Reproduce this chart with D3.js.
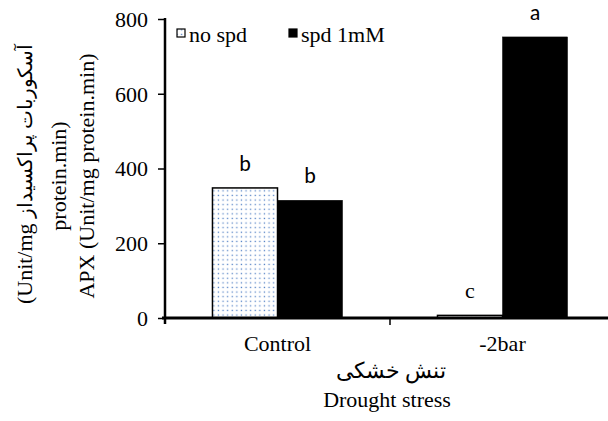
<!DOCTYPE html>
<html><head><meta charset="utf-8">
<script src="https://cdn.jsdelivr.net/npm/d3@7"></script>
<style>body{margin:0;background:#fff}svg{display:block}</style>
</head><body>
<script>
const categories = ["Control", "-2bar"];
const seriesNames = ["no spd", "spd 1mM"];
const noSpd = [348, 7];
const spd1mM = [315, 752];
const lettersNoSpd = ["b", "c"];
const lettersSpd = ["b", "a"];
const yTicks = [0, 200, 400, 600, 800];

const W = 608, H = 421;
const svg = d3.select("body").append("svg").attr("width", W).attr("height", H);
const defs = svg.append("defs");
const pat = defs.append("pattern").attr("id", "dots").attr("patternUnits", "userSpaceOnUse")
  .attr("width", 4.6).attr("height", 4.6);
pat.append("rect").attr("width", 4.6).attr("height", 4.6).attr("fill", "#fff");
pat.append("rect").attr("x", 1.6).attr("y", 1.6).attr("width", 1.3).attr("height", 1.3).attr("fill", "#5a86c8");

const serif = "Liberation Serif, Times New Roman, serif";
const sans = "Carlito, Liberation Sans, sans-serif";
const FS = 22;

const x0 = d3.scaleBand().domain(categories).range([165, 615]).paddingInner(0).paddingOuter(0);
const x1 = d3.scaleBand().domain(seriesNames).range([0, x0.bandwidth()]).paddingInner(0).paddingOuter(0.73);
const y = d3.scaleLinear().domain([0, 800]).range([318, 19]);

const series = [noSpd, spd1mM];
const letterSets = [lettersNoSpd, lettersSpd];
const g = svg.append("g");
categories.forEach((c, ci) => {
  series.forEach((s, si) => {
    const xx = x0(c) + x1(seriesNames[si]);
    g.append("rect").attr("x", xx).attr("width", x1.bandwidth())
      .attr("y", y(s[ci])).attr("height", y(0) - y(s[ci]))
      .attr("fill", si === 0 ? "url(#dots)" : "#000")
      .attr("stroke", "#000").attr("stroke-width", si === 0 ? 1.5 : 0.5);
    const L = letterSets[si][ci];
    g.append("text").attr("x", xx + x1.bandwidth() / 2)
      .attr("y", y(s[ci]) - 17)
      .attr("text-anchor", "middle")
      .style("font-family", L === "c" ? serif : sans)
      .attr("font-size", FS).text(L);
  });
});

// y axis
const yAxis = d3.axisLeft(y).tickValues(yTicks).tickSize(7).tickPadding(10).tickFormat(d3.format("d"));
const ya = svg.append("g").attr("transform", "translate(165,0)").call(yAxis);
ya.select(".domain").attr("stroke-width", 2.5).attr("d", "M0,18V324");
ya.selectAll(".tick line").attr("stroke-width", 1.5);
ya.selectAll(".tick text").style("font-family", serif).attr("font-size", FS).attr("fill", "#000").attr("dy", "0.34em");

// x axis
const xAxis = d3.axisBottom(x0).tickSize(0);
const xa = svg.append("g").attr("transform", "translate(0,318)").call(xAxis);
xa.select(".domain").attr("stroke-width", 3).attr("d", "M162,0H608");
xa.selectAll(".tick text").style("font-family", serif).attr("font-size", FS).attr("fill", "#000")
  .attr("y", 33).attr("dy", 0);
xa.append("line").attr("x1", x0("-2bar")).attr("x2", x0("-2bar")).attr("y1", 0).attr("y2", 7)
  .attr("stroke", "#000").attr("stroke-width", 1.5);

// x titles
svg.append("text").attr("x", 391).attr("y", 378).attr("text-anchor", "middle")
  .style("font-family", serif).attr("font-size", FS).text("تنش خشکی");
svg.append("text").attr("x", 387).attr("y", 407).attr("text-anchor", "middle")
  .style("font-family", serif).attr("font-size", FS).text("Drought stress");

// y titles
const t1 = svg.append("text").attr("transform", "translate(32,174) rotate(-90)")
  .attr("text-anchor", "middle").style("font-family", serif).attr("font-size", FS).attr("direction", "ltr");
t1.append("tspan").text("(Unit/mg ");
t1.append("tspan").attr("font-size", 20).text("آسکوربات پراکسیداز");
const yTitleLines = ["protein.min)", "APX (Unit/mg protein.min)"];
const yTitleX = [66, 94];
yTitleLines.forEach((t, i) => {
  svg.append("text").attr("transform", `translate(${yTitleX[i]},176) rotate(-90)`)
    .attr("text-anchor", "middle").style("font-family", serif).attr("font-size", FS)
    .attr("direction", "ltr").text(t);
});

// legend
const legX = [177, 289];
seriesNames.forEach((n, i) => {
  svg.append("rect").attr("x", legX[i]).attr("y", 29).attr("width", 8).attr("height", 8)
    .attr("fill", i === 0 ? "url(#dots)" : "#000").attr("stroke", "#000").attr("stroke-width", 1.2);
  svg.append("text").attr("x", legX[i] + 12).attr("y", 42).style("font-family", serif)
    .attr("font-size", FS).text(n);
});
</script>
</body></html>
